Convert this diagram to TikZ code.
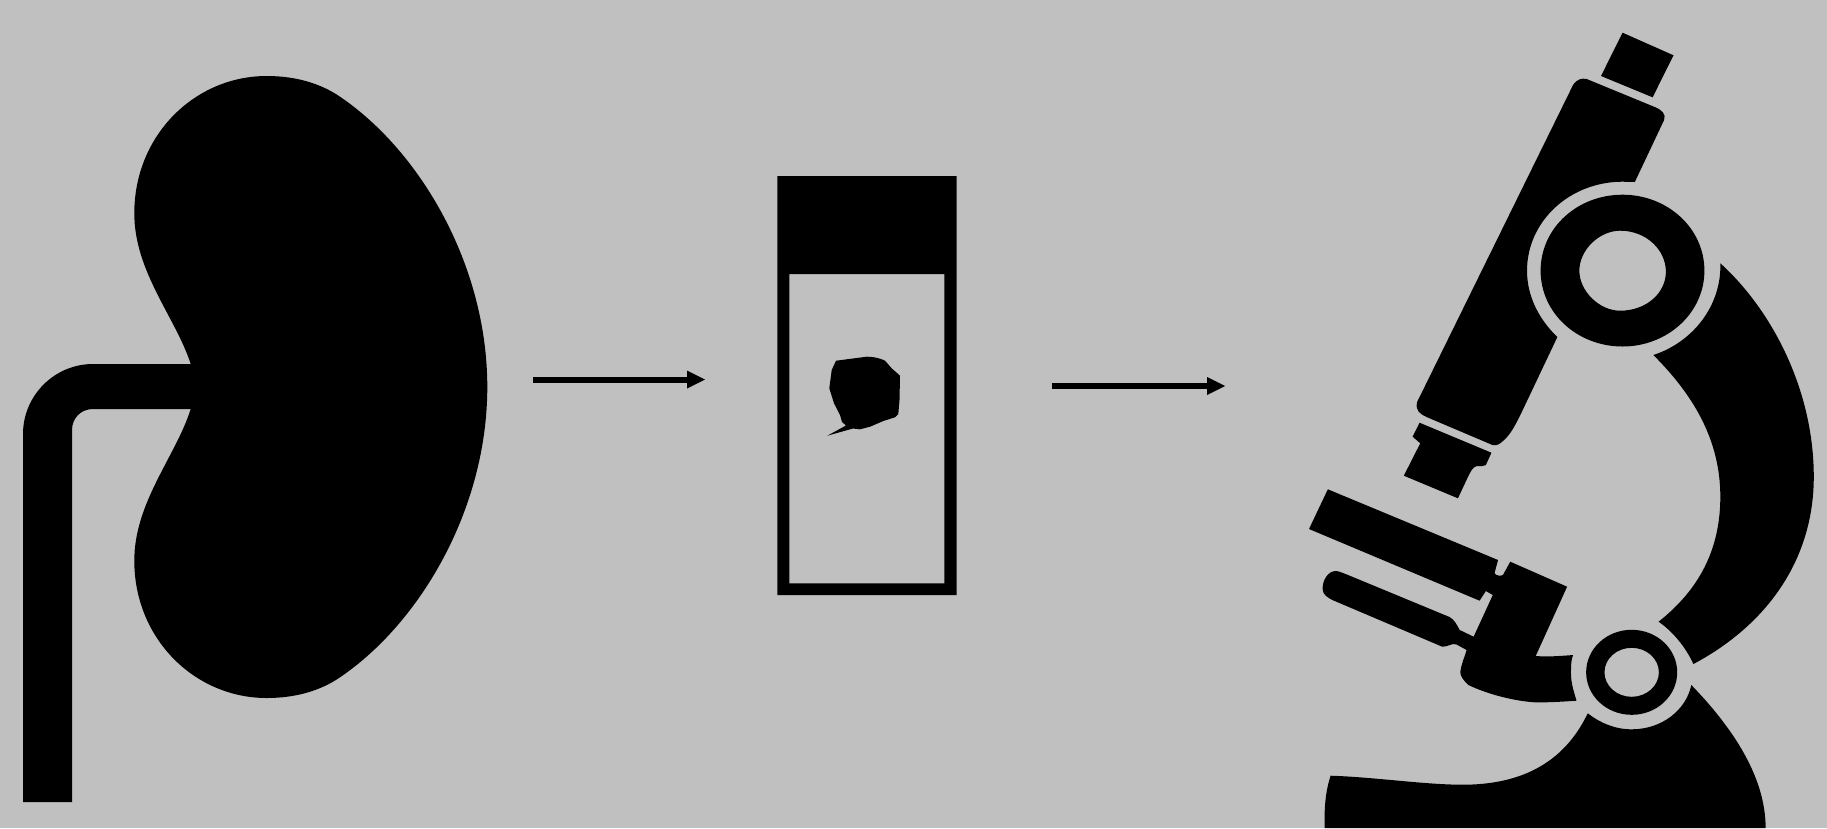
\documentclass[tikz,border=0pt]{standalone}
\usetikzlibrary{arrows.meta}
\definecolor{bgrey}{RGB}{192,192,192}
\tikzset{
  ink/.style={fill=black,draw=none},
  inkeo/.style={fill=black,draw=none,even odd rule},
  flow/.style={draw=black,line width=6pt,-{Triangle[length=18pt,width=18pt,line width=0pt]}},
}
\begin{document}
\begin{tikzpicture}[x=1pt,y=-1pt]
\useasboundingbox (0,0) rectangle (1827,828);
\fill[bgrey] (0,0) rectangle (1827,828);
% kidney
\path[ink] (190.7,364) .. controls (176,318) and (134.3,272) .. (134.3,213.3)
  .. controls (134.3,135) and (195,76) .. (266.7,76)
  .. controls (295,76) and (320,83) .. (340,96.7)
  .. controls (420,151) and (487.3,265) .. (487.3,387)
  .. controls (487.3,509) and (420,623) .. (340,677.3)
  .. controls (320,691) and (295,698) .. (266.7,698)
  .. controls (195,698) and (134.3,639) .. (134.3,560.7)
  .. controls (134.3,502) and (176,456) .. (190.7,409) -- cycle;
% ureter
\path[ink] (195,364) -- (93,364) .. controls (54.5,364) and (23,395.5) .. (23,434)
  -- (23,802) -- (72,802) -- (72,430) .. controls (72,418) and (81,409) .. (93,409)
  -- (195,409) -- cycle;
% slide
\path[inkeo] (777.3,176) rectangle (956.7,595) (789.3,274) rectangle (944.3,583.3);
% tissue
\path[ink] (836,360.7) -- (866.7,356.7) .. controls (872,356.5) and (880,358) .. (885,360.7)
  -- (891.7,368.3) -- (900,375.7) -- (899.5,400) -- (898.3,414) -- (895,417.3) -- (883.3,421)
  -- (870,426.7) -- (860,429.3) -- (853,428.5) -- (827.3,435.7) -- (846,425.5) -- (842,422) -- (840,415)
  -- (834,403.3) -- (829.3,388.3) -- (831.7,370) -- cycle;
% arrows
\coordinate (arrowAstart) at (533.3,379.5);
\coordinate (arrowAend) at (705,379.5);
\coordinate (arrowBstart) at (1052.3,386);
\coordinate (arrowBend) at (1225,386);
\draw[flow] (arrowAstart) -- (arrowAend);
\draw[flow] (arrowBstart) -- (arrowBend);
\begin{scope}[shift={(1280,0)},xscale=1.0466,shift={(-1280,0)}]
% eyepiece
\path[ink] (1607.3,32.7) -- (1656,55.3) -- (1636,97.3) -- (1586.7,76) -- cycle;
% tube
\path[ink] (1573,79) -- (1638,107) .. controls (1645,110) and (1649,114) .. (1647,120)
  -- (1619,182) -- (1607.3,181.7) .. controls (1557,181.7) and (1516,221) .. (1516,270.7)
  .. controls (1516,297) and (1528,320) .. (1545,337)
  -- (1511,412) .. controls (1505,425) and (1500,435) .. (1493,441)
  .. controls (1490,444) and (1487,446) .. (1483,445)
  -- (1420,417) .. controls (1414,414) and (1409,411) .. (1411,402)
  -- (1560,85) .. controls (1564,79) and (1568,78) .. (1573,79) -- cycle;
% objective
\path[ink] (1413.3,422.7) -- (1482,452.7) -- (1476.7,465) .. controls (1474,467) and (1471,466) .. (1468,466)
  .. controls (1464,467) and (1462,472) .. (1460,476)
  -- (1450,498.3) -- (1398.3,475.7) -- (1414,443.3) -- (1406.7,436.7) -- cycle;
% focusing ring
\path[inkeo] (1607.3,194.7) .. controls (1650,194.7) and (1685.5,228) .. (1685.5,270.7)
   .. controls (1685.5,313) and (1650,346.5) .. (1607.3,346.5)
   .. controls (1564,346.5) and (1529,313) .. (1529,270.7)
   .. controls (1529,228) and (1564,194.7) .. (1607.3,194.7) -- cycle
  (1605,230.7) .. controls (1630,230.7) and (1648.7,250) .. (1648.7,271.7)
   .. controls (1648.7,293) and (1630,310.7) .. (1605,310.7)
   .. controls (1585,310.7) and (1566,291) .. (1566,270.7)
   .. controls (1566,250) and (1585,230.7) .. (1605,230.7) -- cycle;
% arm
\path[ink] (1700.7,263.3) .. controls (1750,310) and (1790,390) .. (1790,476.7)
  .. controls (1790,560) and (1745,625) .. (1675,664)
  .. controls (1668,648) and (1656,632) .. (1641.7,621.7)
  .. controls (1680,590) and (1700.7,550) .. (1700.7,496.7)
  .. controls (1700.7,440) and (1675,395) .. (1636.7,355)
  .. controls (1675,342) and (1702,305) .. (1700.7,263.3) -- cycle;
% stage, slide holder
\path[ink] (1325.7,489.3) -- (1488.3,560) -- (1485,573) .. controls (1486,576) and (1491,576) .. (1493,575)
  -- (1500,561.7) -- (1554.3,586.7) -- (1524.3,656) .. controls (1535,657) and (1548,656) .. (1560,655)
  .. controls (1558,660) and (1558,667) .. (1558,673) .. controls (1558,684) and (1561,692) .. (1563.3,700.7)
  .. controls (1545,702) and (1535,702.5) .. (1523,702.3) .. controls (1505,701) and (1480,695) .. (1460,685)
  .. controls (1455,680) and (1452,676) .. (1452.3,671.7) .. controls (1453,665) and (1456,658) .. (1458.3,650)
  -- (1448.3,644.3) .. controls (1444,643) and (1440,647) .. (1435,646.7) -- (1330,600)
  .. controls (1325,597) and (1321,595) .. (1320.7,589) .. controls (1320.5,580) and (1326,571) .. (1333.3,571)
  .. controls (1336,571) and (1340,573) .. (1345,575) -- (1442,617)
  .. controls (1447,620) and (1449,625) .. (1451.7,630) -- (1465,636.7) -- (1483.3,595)
  -- (1476.7,591) -- (1470.7,600.7) -- (1307.7,529) -- cycle;
% small ring
\path[inkeo] (1616,672.3) circle[x radius=43.5,y radius=42.5] (1616,672.3) circle[x radius=26,y radius=24.5];
% base
\path[ink] (1574,713.3) .. controls (1586,723) and (1600,729.3) .. (1616,729.3)
  .. controls (1645,729.3) and (1668,710) .. (1673,685)
  .. controls (1710,725) and (1744,775) .. (1744,828)
  -- (1322.7,828) .. controls (1322,805) and (1324,790) .. (1328.3,775.7)
  .. controls (1370,777) and (1420,785) .. (1456.7,784.7)
  .. controls (1520,784) and (1555,755) .. (1574,713.3) -- cycle;
\end{scope}
\end{tikzpicture}
\end{document}
